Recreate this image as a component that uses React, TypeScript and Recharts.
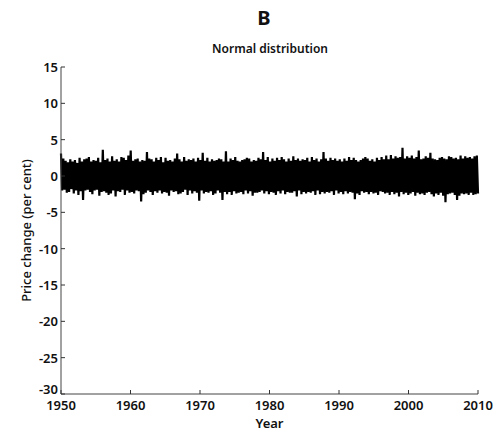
import { LineChart, Line, XAxis, YAxis, Label } from 'recharts';

// six readings per year, 1950 - 2009
const values1950s = [
  3.1, -2.0, 2.4, -1.9, 2.1, -2.3,
  1.9, -2.2, 2.3, -1.8, 2.0, -2.4,
  2.2, -2.0, 1.8, -2.6, 2.5, -2.1,
  2.0, -3.3, 2.3, -2.0, 2.4, -1.9,
  2.6, -2.2, 2.0, -2.5, 2.2, -2.0,
  2.1, -1.9, 2.5, -2.7, 1.9, -2.2,
  3.6, -2.1, 2.2, -2.3, 2.4, -2.6,
  2.0, -2.4, 2.7, -2.0, 2.1, -2.8,
  2.3, -2.1, 2.0, -2.2, 2.6, -1.9,
  2.5, -2.6, 2.2, -2.0, 2.8, -2.3,
];
const values1960s = [
  3.5, -2.2, 2.1, -2.4, 2.3, -2.0,
  2.4, -2.1, 2.0, -3.5, 2.2, -2.5,
  2.1, -2.3, 3.3, -2.0, 2.4, -2.2,
  2.3, -2.6, 2.0, -2.1, 2.5, -2.3,
  2.2, -2.0, 2.6, -2.4, 1.9, -2.2,
  2.5, -2.3, 2.1, -2.7, 2.2, -2.0,
  2.0, -2.2, 2.4, -2.1, 3.1, -2.5,
  2.3, -2.4, 2.0, -2.2, 2.6, -1.9,
  2.1, -2.6, 2.3, -2.0, 2.2, -2.4,
  2.4, -2.1, 2.0, -2.3, 2.5, -3.4,
];
const values1970s = [
  2.2, -2.0, 3.2, -2.4, 2.1, -2.2,
  2.5, -2.3, 2.0, -2.1, 2.3, -2.6,
  2.1, -2.4, 2.2, -2.0, 2.4, -2.3,
  2.3, -3.3, 2.0, -2.2, 3.4, -2.5,
  2.0, -2.2, 2.4, -2.6, 2.2, -2.1,
  2.6, -2.4, 2.1, -2.3, 2.0, -2.2,
  2.2, -2.5, 2.3, -2.0, 2.5, -2.4,
  2.4, -2.1, 2.0, -2.7, 2.2, -2.3,
  2.1, -2.3, 2.5, -2.2, 2.3, -2.0,
  3.3, -2.4, 2.2, -2.1, 2.6, -2.5,
];
const values1980s = [
  2.0, -2.2, 2.4, -2.3, 2.1, -2.6,
  2.5, -2.1, 2.2, -2.4, 2.6, -2.0,
  2.3, -2.5, 2.0, -2.2, 2.4, -2.3,
  2.1, -2.3, 2.7, -2.1, 2.2, -2.8,
  2.4, -2.0, 2.1, -2.5, 2.3, -2.2,
  2.2, -2.4, 2.5, -2.2, 2.0, -2.3,
  2.6, -2.1, 2.2, -2.6, 2.4, -2.0,
  2.0, -2.5, 2.3, -2.2, 3.3, -2.4,
  2.4, -2.2, 2.1, -2.3, 2.5, -2.1,
  2.2, -2.6, 2.4, -2.0, 2.1, -2.4,
];
const values1990s = [
  2.3, -2.2, 2.0, -2.5, 2.4, -2.1,
  2.1, -2.4, 2.6, -2.2, 2.2, -2.3,
  2.5, -3.2, 2.2, -2.4, 2.0, -2.6,
  2.2, -2.1, 2.4, -2.3, 2.6, -2.2,
  2.4, -2.5, 2.1, -2.2, 2.3, -2.4,
  2.0, -2.3, 2.5, -2.6, 2.2, -2.1,
  2.6, -2.2, 2.3, -2.4, 2.8, -2.3,
  2.3, -2.6, 2.9, -2.2, 2.4, -2.5,
  2.7, -2.3, 2.5, -2.8, 2.6, -2.2,
  3.9, -2.5, 2.4, -2.3, 2.7, -2.6,
];
const values2000s = [
  2.5, -2.4, 2.8, -2.2, 2.4, -2.7,
  2.6, -2.3, 3.5, -2.5, 2.3, -2.4,
  2.4, -2.6, 2.7, -2.3, 2.5, -2.2,
  3.2, -2.5, 2.4, -2.8, 2.3, -2.4,
  2.2, -2.6, 2.5, -2.3, 2.6, -2.7,
  2.4, -3.6, 2.3, -2.5, 2.7, -2.4,
  2.6, -2.3, 2.4, -2.6, 2.5, -3.3,
  2.3, -2.7, 2.8, -2.4, 2.4, -2.5,
  2.7, -2.4, 2.5, -2.6, 2.6, -2.3,
  2.4, -2.6, 2.7, -2.5, 2.8, -2.4,
];

const yearTicks = [1950, 1960, 1970, 1980, 1990, 2000, 2010];
const changeTicks = [-30, -25, -20, -15, -10, -5, 0, 5, 10, 15];

const allValues = [
  ...values1950s, ...values1960s, ...values1970s,
  ...values1980s, ...values1990s, ...values2000s,
];
const data = allValues.map((v, i) => ({
  year: 1950 + (i * 60) / (allValues.length - 1),
  change: v,
}));

const FONT = '"Noto Sans", "Open Sans", sans-serif';

// MATLAB style ticks that point into the plot
const YTick = ({ x, y, payload }: any) => (
  <g>
    <line x1={x} y1={y} x2={x + 4} y2={y} stroke="#333" />
    <text x={x - 3} y={payload.value === -30 ? y - 5 : y} textAnchor="end" dominantBaseline="central"
      fontSize={13} fontWeight={600} fill="#111" fontFamily={FONT}>
      {payload.value}
    </text>
  </g>
);

const XTick = ({ x, y, payload }: any) => (
  <g>
    <line x1={x} y1={y} x2={x} y2={y - 4} stroke="#333" />
    <text x={x} y={y + 16} textAnchor="middle"
      fontSize={13} fontWeight={600} fill="#111" fontFamily={FONT}>
      {payload.value}
    </text>
  </g>
);

export default function App() {
  return (
    <div style={{ width: 497, height: 435, background: '#fff' }}>
      <style>{`body{margin:0}`}</style>
      <LineChart width={497} height={435} data={data}
        margin={{ top: 67, right: 19, bottom: 0, left: 0 }}>
        <text x={264} y={17} textAnchor="middle" dominantBaseline="central"
          fontSize={20} fontWeight={700} fontFamily={FONT} fill="#111">B</text>
        <text x={270} y={48} textAnchor="middle" dominantBaseline="central"
          fontSize={12} fontWeight={600} fontFamily={FONT} fill="#111">Normal distribution</text>
        <XAxis dataKey="year" type="number" domain={[1950, 2010]} ticks={yearTicks}
          height={41} tickSize={0} tickMargin={0} tick={<XTick />}
          axisLine={{ stroke: '#444' }} interval={0}>
          <Label value="Year" position="insideBottom" offset={7}
            style={{ fontSize: 13, fontWeight: 600, fontFamily: FONT, fill: '#111' }} />
        </XAxis>
        <YAxis type="number" domain={[-30, 15]} ticks={changeTicks}
          width={61} tickSize={0} tickMargin={0} tick={<YTick />}
          axisLine={{ stroke: '#444' }} interval={0}>
          <Label value="Price change (per cent)" angle={-90} position="insideLeft"
            offset={26}
            style={{ textAnchor: 'middle', fontSize: 13, fontWeight: 500, fontFamily: FONT, fill: '#111' }} />
        </YAxis>
        <Line type="linear" dataKey="change" stroke="#000" strokeWidth={2.2}
          dot={false} isAnimationActive={false} />
      </LineChart>
    </div>
  );
}
